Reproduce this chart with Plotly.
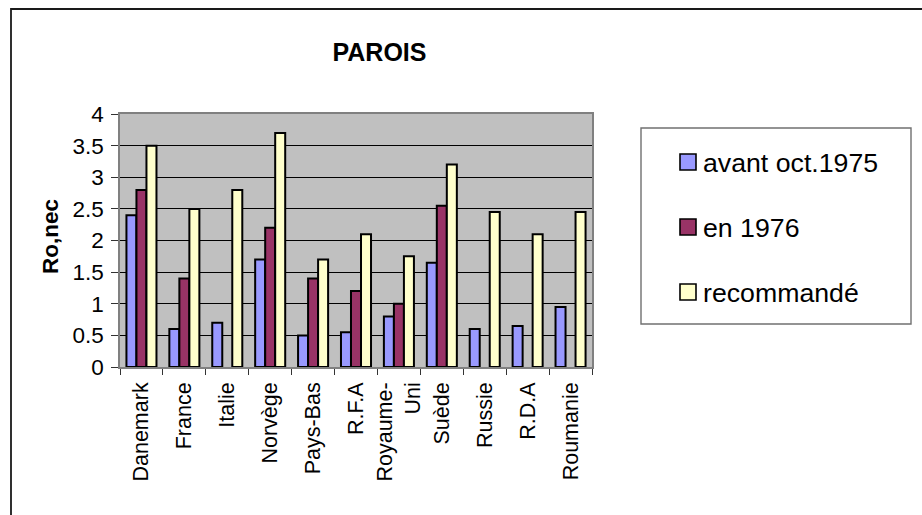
import plotly.graph_objects as go

# Countries on the category axis
countries = ["Danemark", "France", "Italie", "Norvège", "Pays-Bas", "R.F.A",
             "Royaume-<br>Uni", "Suède", "Russie", "R.D.A", "Roumanie"]

# Ro,nec values per period (None where no value is given)
avant_oct_1975 = [2.4, 0.6, 0.7, 1.7, 0.5, 0.55, 0.8, 1.65, 0.6, 0.65, 0.95]
en_1976 = [2.8, 1.4, None, 2.2, 1.4, 1.2, 1.0, 2.55, None, None, None]
recommande = [3.5, 2.5, 2.8, 3.7, 1.7, 2.1, 1.75, 3.2, 2.45, 2.1, 2.45]

series_names = ["avant oct.1975", "en 1976", "recommandé"]
series_values = [avant_oct_1975, en_1976, recommande]
series_colors = ["#9999FF", "#993366", "#FFFFCC"]

y_ticks = [0, 0.5, 1, 1.5, 2, 2.5, 3, 3.5, 4]
y_tick_text = ["0", "0.5", "1", "1.5", "2", "2.5", "3", "3.5", "4"]

FONT = "Liberation Sans, Arial, sans-serif"
W, H = 922, 515
L, R, T, B = 120, 330, 114, 148
PW, PH = W - L - R, H - T - B


def px_x(x):
    """Convert a pixel column to paper x."""
    return (x - L) / PW


def px_y(y):
    """Convert a pixel row to paper y."""
    return (H - B - y) / PH


fig = go.Figure()
for name, vals, col in zip(series_names, series_values, series_colors):
    fig.add_trace(go.Bar(
        x=countries, y=vals, name=name,
        marker=dict(color=col, line=dict(color="#000000", width=2)),
        showlegend=False,
    ))

shapes = []
annotations = []

# Outer chart frame
shapes.append(dict(type="rect", xref="paper", yref="paper",
                   x0=px_x(11), x1=px_x(940), y0=px_y(540), y1=px_y(9),
                   line=dict(color="#1a1a1a", width=1.8), fillcolor="rgba(0,0,0,0)",
                   layer="above"))

# Legend box
shapes.append(dict(type="rect", xref="paper", yref="paper",
                   x0=px_x(641), x1=px_x(911), y0=px_y(324), y1=px_y(128),
                   line=dict(color="#707070", width=1.4), fillcolor="#FFFFFF"))
legend_rows = [162, 227, 292]
for name, col, yc in zip(series_names, series_colors, legend_rows):
    shapes.append(dict(type="rect", xref="paper", yref="paper",
                       x0=px_x(680), x1=px_x(696), y0=px_y(yc + 8), y1=px_y(yc - 8),
                       line=dict(color="#000000", width=1.6), fillcolor=col))
    annotations.append(dict(text=name, xref="paper", yref="paper",
                            x=px_x(701), y=px_y(yc + 1), xanchor="left", yanchor="middle",
                            showarrow=False, font=dict(family=FONT, size=26.7, color="#000000")))

# Y-axis title
annotations.append(dict(text="<b>Ro,nec</b>", xref="paper", yref="paper",
                        x=px_x(50), y=px_y(237), xanchor="center", yanchor="middle",
                        textangle=-90, showarrow=False,
                        font=dict(family=FONT, size=22.5, color="#000000")))

fig.update_layout(
    width=W, height=H,
    margin=dict(l=L, r=R, t=T, b=B, pad=0),
    paper_bgcolor="#FFFFFF",
    plot_bgcolor="#C0C0C0",
    barmode="group",
    bargap=0.3,
    bargroupgap=0,
    font=dict(family=FONT, color="#000000"),
    title=dict(text="<b>PAROIS</b>", xref="container", yref="container",
               x=379.5 / W, y=1 - 52 / H, xanchor="center", yanchor="middle",
               font=dict(family=FONT, size=25, color="#000000")),
    shapes=shapes,
    annotations=annotations,
    showlegend=False,
)

fig.update_xaxes(
    type="category",
    tickangle=-90,
    tickfont=dict(family=FONT, size=21.5, color="#000000"),
    ticks="outside", ticklen=6, tickcolor="#333333", tickwidth=1.3,
    tickson="boundaries",
    ticklabelstandoff=5,
    showline=True, linecolor="#808080", linewidth=1.5, mirror=True,
    showgrid=False,
)

fig.update_yaxes(
    range=[0, 4],
    tickmode="array", tickvals=y_ticks, ticktext=y_tick_text,
    tickfont=dict(family=FONT, size=22.5, color="#000000"),
    ticks="outside", ticklen=7, tickcolor="#333333", tickwidth=1.3,
    ticklabelstandoff=3,
    showline=True, linecolor="#808080", linewidth=1.5, mirror=True,
    showgrid=True, gridcolor="#000000", gridwidth=1,
    zeroline=False,
)

fig.write_html("out.html")
